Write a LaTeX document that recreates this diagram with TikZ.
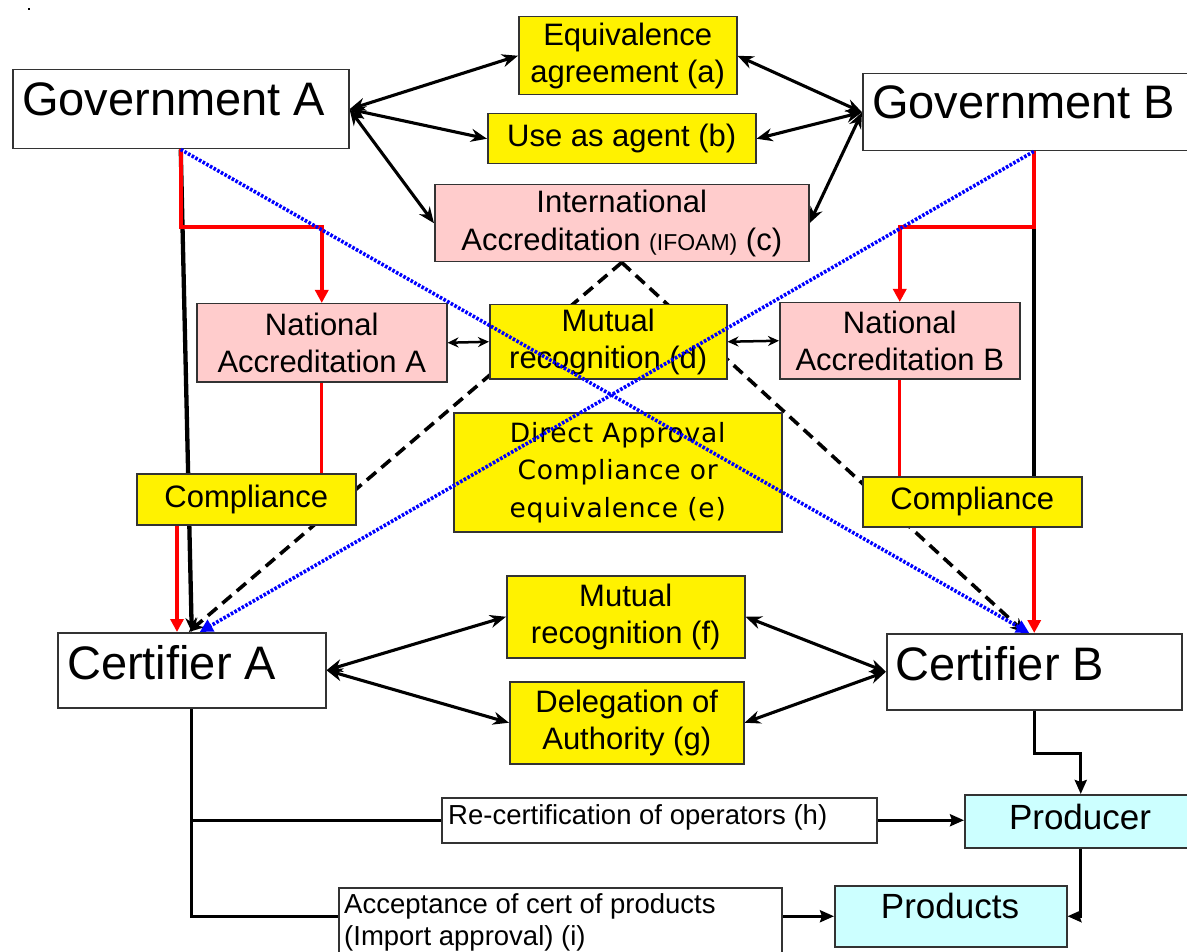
\documentclass[tikz,border=0pt]{standalone}
\usepackage{fontspec}
\setmainfont{Liberation Sans}
\newfontfamily\dvs[LetterSpace=3]{DejaVu Sans}
\usetikzlibrary{arrows.meta,calc,backgrounds}
\definecolor{pink0}{HTML}{FFCCCC}
\definecolor{cyan0}{HTML}{CCFFFF}
\definecolor{edge}{HTML}{333333}
\begin{document}
\begin{tikzpicture}[x=1pt,y=-1pt,
  bx/.style={draw=edge, line width=1.5pt, inner sep=0pt, anchor=north west, align=center},
  yel/.style={bx, fill=yellow},
  pnk/.style={bx, fill=pink0},
  cyn/.style={bx, fill=cyan0},
  wht/.style={bx, fill=white},
  fN/.style={font=\fontsize{31}{37.5}\selectfont},
  fL/.style={font=\fontsize{47}{56}\selectfont},
  fS/.style={font=\fontsize{27.5}{32}\selectfont},
  fP/.style={font=\fontsize{35}{42}\selectfont},
  txt/.style={inner sep=0pt, anchor=base west},
  blk/.style={line width=3.1pt, {Stealth[length=16pt,width=13pt]}-{Stealth[length=16pt,width=13pt]}},
  blks/.style={line width=2.5pt, {Stealth[length=11pt,width=10pt]}-{Stealth[length=11pt,width=10pt]}},
  ln/.style={line width=3pt},
  arr/.style={line width=3pt, -{Stealth[length=14pt,width=12pt,inset=2pt]}},
  redl/.style={red, line width=4pt, -{Triangle[length=13pt,width=13pt]}},
  redt/.style={red, line width=3pt},
  bigl/.style={line width=4.3pt},
  dsh/.style={line width=3.6pt, dash pattern=on 12pt off 7pt, -{Stealth[length=15pt,width=13pt]}},
  blu/.style={blue, line width=3.6pt, dash pattern=on 2.6pt off 1.6pt, -{Triangle[length=13pt,width=13pt]}}
]
\useasboundingbox (0,0) rectangle (1187,952);
\fill[black] (28,8) rectangle (30,10);

% boxes
\node[wht, minimum width=336pt, minimum height=79pt] (ga) at (12,69) {};
\node[wht, minimum width=342pt, minimum height=77pt] (gb) at (862,73) {};
\node[yel, fN, minimum width=218pt, minimum height=78pt] (eq) at (518,16) {Equivalence\\agreement (a)};
\node[yel, fN, minimum width=268pt, minimum height=50pt] (ua) at (487,113) {Use as agent (b)};
\node[pnk, fN, minimum width=374pt, minimum height=77pt] (ia) at (434,184) {International\\Accreditation {\fontsize{23}{24}\selectfont(IFOAM)} (c)};
\node[pnk, fN, minimum width=250pt, minimum height=78pt] (na) at (196,303) {National\\Accreditation A};
\node[yel, fN, minimum width=237pt, minimum height=74pt] (md) at (489,304) {Mutual\\recognition (d)};
\node[pnk, fN, minimum width=240pt, minimum height=76pt] (nb) at (779,302) {National\\Accreditation B};
\node[yel, font=\dvs\fontsize{26.5}{37.5}\selectfont, minimum width=328pt, minimum height=119pt] (da) at (453,412) {Direct Approval\\Compliance or\\equivalence (e)};
\node[yel, fN, minimum width=219pt, minimum height=51pt] (cpa) at (136,473) {Compliance};
\node[yel, fN, minimum width=219pt, minimum height=50pt] (cpb) at (862,476) {Compliance};
\node[yel, fN, minimum width=238pt, minimum height=82pt] (mf) at (506,575) {Mutual\\recognition (f)};
\node[yel, fN, minimum width=234pt, minimum height=82pt] (dg) at (509,681) {Delegation of\\Authority (g)};
\node[wht, minimum width=268pt, minimum height=75pt] (ca) at (57,632) {};
\node[wht, minimum width=295pt, minimum height=76pt] (cb) at (886,633) {};
\node[wht, minimum width=435pt, minimum height=45pt] (rc) at (441,797) {};
\node[wht, minimum width=443pt, minimum height=80pt] (ac) at (338,887) {};
\node[cyn, minimum width=232pt, minimum height=53pt] (pr) at (964,794) {};
\node[cyn, minimum width=232pt, minimum height=61pt] (pd) at (834,885) {};

% texts placed off-centre
\node[txt, fL] (gat) at (22,116) {Government A};
\node[txt, fL] (gbt) at (872,119) {Government B};
\node[txt, fL] (cat) at (67,679) {Certifier A};
\node[txt, fL] (cbt) at (895,680) {Certifier B};
\node[txt, fS] (rct) at (448,824) {Re-certification of operators (h)};
\node[txt, fS] (act1) at (344,913) {Acceptance of cert of products};
\node[txt, fS] (act2) at (344,945) {(Import approval) (i)};
\node[txt, fP, anchor=base] (prt) at (1080,829) {Producer};
\node[txt, fP, anchor=base] (pdt) at (950,918) {Products};

% connectors under the boxes
\begin{pgfonlayer}{background}
\draw[blk] (ga.east) -- (eq.west);
\draw[blk] (ga.east) -- (ua.west);
\draw[blk] (ga.east) -- (ia.west);
\draw[blk] (gb.west) -- (eq.east);
\draw[blk] (gb.west) -- (ua.east);
\draw[blk] (gb.west) -- (ia.east);
\draw[blks] (na.east) -- (md.west);
\draw[blks] (md.east) -- (nb.west);
\draw[blk] (ca.east) -- (mf.west);
\draw[blk] (ca.east) -- (dg.west);
\draw[blk] (cb.west) -- (mf.east);
\draw[blk] (cb.west) -- (dg.east);

\draw[dsh] (ia.south) -- ($(ca.north)+(-3,0)$);
\draw[dsh] (ia.south) -- ($(cb.north)+(-9,0)$);

\draw[bigl, -{Stealth[length=14pt,width=12pt]}] (ga.south) -- (ca.north);
\draw[bigl] (gb.south) -- (cpb.north -| gb.south);
\draw[redl] (ga.south) -- ++(0,78) -| (na.north);
\draw[redl] (gb.south) -- ++(0,76) -| (nb.north);
\draw[redt] (na.south) -- (na.south |- cpa.north);
\draw[redt] (nb.south) -- (nb.south |- cpb.north);
\coordinate (ra) at ($(cpa.south west)+(41,0)$);
\draw[redl] (ra) -- (ra |- ca.north);
\draw[redl] (cpb.south -| cb.north) -- (cb.north);

\draw[ln] (ca.south) |- (rc.west);
\draw[ln] (ca.south) |- (ac.west |- pd.west);
\draw[arr] (rc.east) -- (rc.east -| pr.west);
\draw[arr] (ac.east |- pd.west) -- (pd.west);
\draw[arr] (cb.south) -- ++(0,43) -| (pr.north);
\draw[arr] (pr.south) |- (pd.east);
\end{pgfonlayer}

% blue dotted lines over the boxes
\draw[blu] (ga.south) -- ($(cb.north)+(-5,0)$);
\draw[blu] (gb.south) -- ($(ca.north)+(8,0)$);
\end{tikzpicture}
\end{document}
